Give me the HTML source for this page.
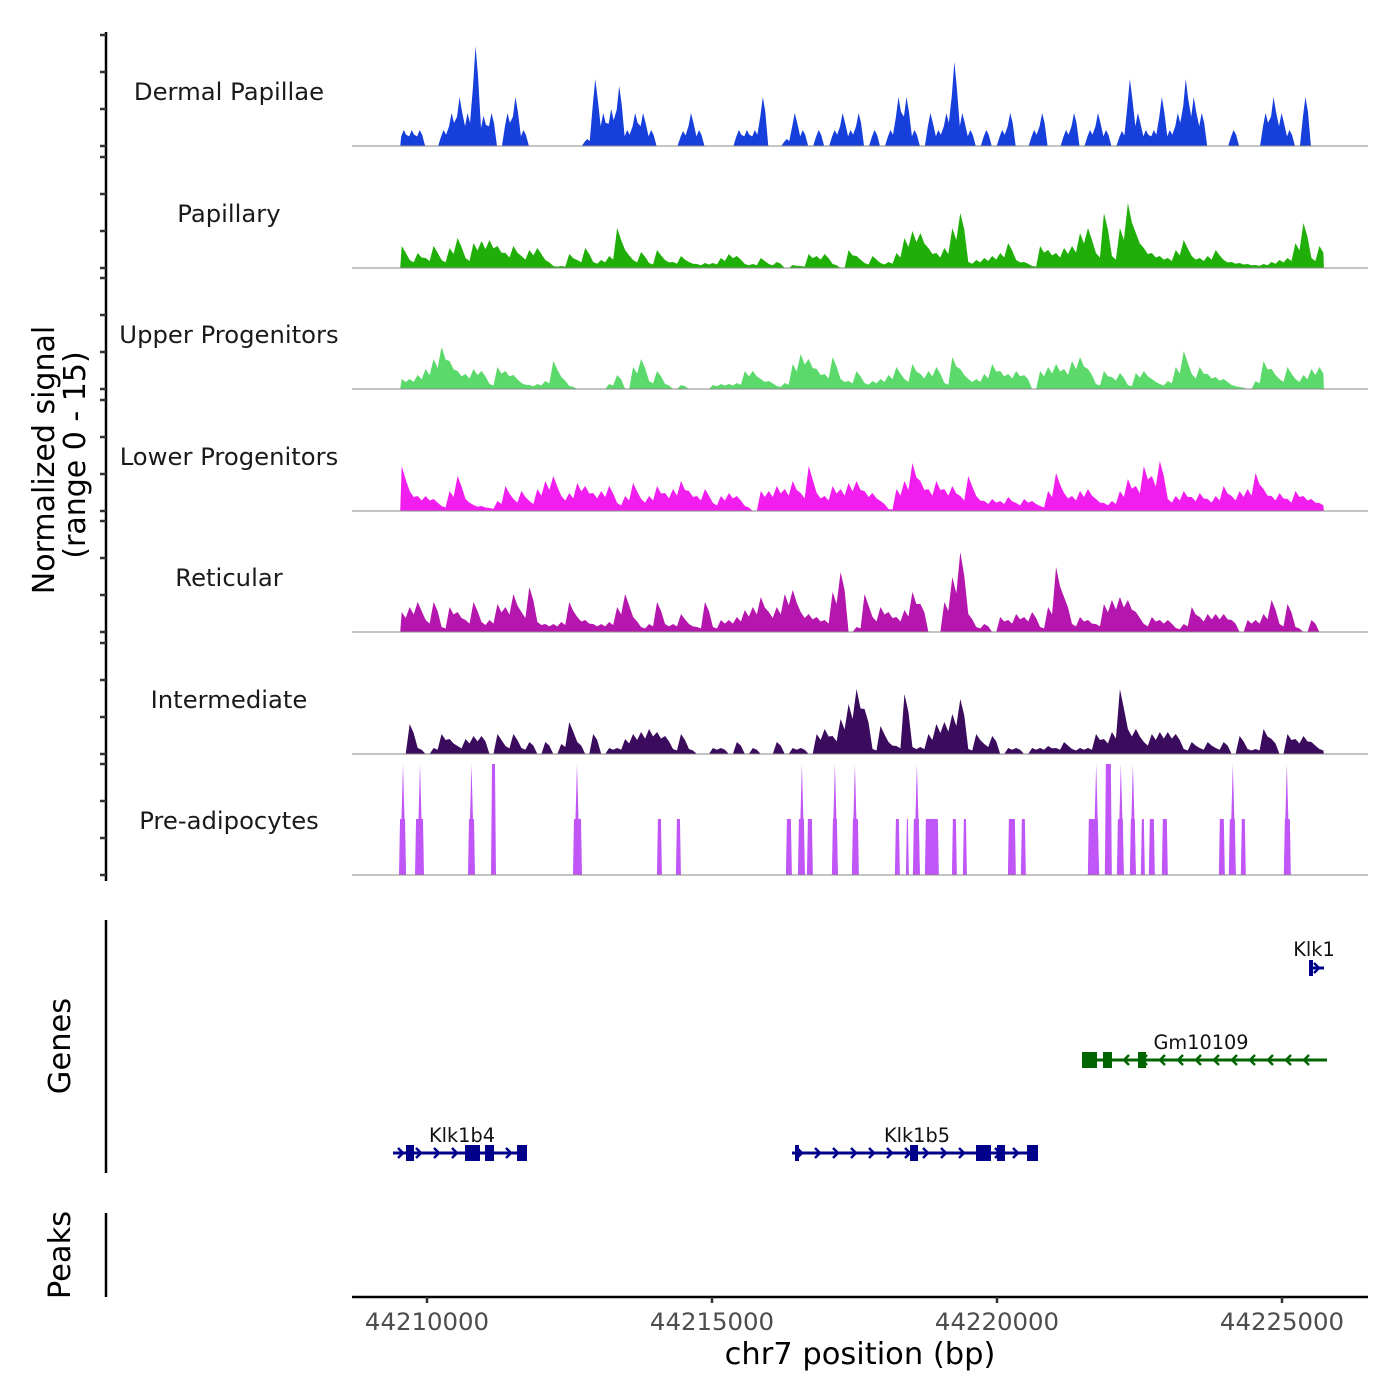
<!DOCTYPE html>
<html><head><meta charset="utf-8"><style>
body{margin:0;background:#fff}
svg{display:block;font-family:"DejaVu Sans","Liberation Sans",sans-serif}
</style></head><body>
<svg id="chart" width="1400" height="1400" viewBox="0 0 1400 1400">
<g id="tracks"></g>
<g id="genes"></g>
<g id="axes"></g>
</svg>
<script>
// ---- data ----
const binStart = 44209530;     // bp of first bin
const binSize = 140;           // bp per bin
const signalMax = 111;         // track signal domain (normalized, range 0-15)
const trackNames = ["Dermal Papillae","Papillary","Upper Progenitors","Lower Progenitors","Reticular","Intermediate","Pre-adipocytes"];
const trackColors = ["#163fdc","#20ae08","#5bd96b","#f21ef0","#b516ae","#3b0b5e","#c056f7"];
const dermal = [16,16,16,0,0,16,33,49,33,100,30,33,0,33,49,16,0,0,0,0,0,0,0,7,67,33,37,60,16,33,33,16,0,0,0,15,33,16,0,0,0,0,16,16,16,49,0,0,7,33,16,0,16,0,16,33,16,33,0,16,0,16,49,49,16,0,33,16,33,84,33,16,0,16,0,16,33,0,0,16,33,0,0,16,33,0,16,33,16,0,15,67,33,16,16,49,16,33,67,49,33,0,0,0,16,0,0,0,33,49,33,16,0,49,0,0];
const papillary = [22,8,15,10,22,8,20,30,10,25,27,28,22,15,22,12,18,20,8,2,2,14,8,20,6,8,12,40,18,8,16,5,18,8,6,12,6,4,5,5,10,14,12,4,4,10,4,6,0,3,2,14,12,14,4,0,18,12,5,12,5,6,15,30,37,35,20,15,20,40,55,6,8,10,12,15,25,8,6,2,22,18,15,20,22,35,40,15,55,12,40,65,35,20,15,12,10,18,28,12,10,12,18,8,6,5,4,3,4,6,8,10,25,45,10,22];
const upper = [10,10,14,20,30,42,28,18,15,20,18,5,22,18,14,6,4,5,8,28,12,3,0,0,0,0,5,14,0,22,30,8,18,5,0,4,0,0,0,4,5,5,6,18,18,10,8,3,6,25,35,30,20,15,32,10,8,18,6,8,10,14,22,10,25,15,18,22,6,32,20,10,10,15,25,18,15,18,14,0,18,22,25,20,28,32,20,5,18,12,16,4,16,18,10,5,8,22,38,15,22,15,12,10,4,2,0,8,28,20,10,22,10,14,20,22];
const lower = [45,20,15,15,12,5,20,35,12,6,5,3,10,25,12,20,10,22,30,35,15,18,28,25,18,20,25,8,15,28,12,15,25,18,22,30,20,15,22,8,15,18,15,5,0,20,20,25,22,30,18,45,18,15,25,22,28,30,20,18,10,2,22,30,48,30,22,30,22,25,15,35,15,10,12,10,14,8,12,10,5,20,38,18,15,20,22,12,8,10,20,32,25,45,35,50,12,15,20,14,18,12,15,25,15,20,22,38,22,15,18,12,20,15,12,8];
const reticular = [20,25,30,12,30,5,25,20,12,30,10,12,28,25,38,20,45,10,8,8,10,30,15,12,8,8,10,25,38,15,5,8,30,8,8,18,8,5,30,5,12,12,15,22,25,35,20,25,38,42,20,18,15,12,40,60,0,5,38,15,25,20,15,22,40,28,0,0,30,55,80,18,5,8,0,15,12,18,15,20,5,25,65,35,8,15,12,8,28,32,35,32,20,8,15,12,12,4,8,25,15,18,18,18,12,0,12,12,18,32,8,28,5,0,12,0];
const intermediate = [0,30,6,0,6,20,15,8,15,18,18,0,20,8,20,6,12,0,12,0,10,32,12,0,20,0,6,6,15,20,22,25,22,18,5,20,5,0,0,6,6,0,12,0,6,0,0,12,0,6,6,0,20,25,18,35,50,65,45,5,28,12,8,60,7,7,20,30,32,40,55,5,20,10,18,0,6,6,0,6,6,8,6,12,5,6,6,20,15,22,65,25,25,12,20,22,22,20,5,12,6,12,6,12,0,18,5,5,25,15,0,20,15,18,12,5];
// pre-adipocytes: peak segments (bp) and values
const preStarts = [44209509,44209790,44210719,44211123,44212561,44214034,44214367,44216297,44216507,44216665,44217104,44217455,44218209,44218402,44218524,44218735,44219209,44219401,44220191,44220419,44221594,44221892,44222103,44222331,44222524,44222664,44222892,44223892,44224067,44224278,44225032];
const preEnds   = [44209632,44209947,44210842,44211210,44212719,44214122,44214455,44216402,44216630,44216770,44217209,44217577,44218296,44218454,44218647,44218980,44219296,44219472,44220331,44220506,44221787,44222015,44222225,44222436,44222594,44222769,44222997,44223997,44224190,44224365,44225155];
const preVals   = [56,56,56,111,56,56,56,56,56,56,56,56,56,56,56,56,56,56,56,56,56,111,56,56,56,56,56,56,56,56,56];
const preSpikes = [44209579,44209877,44210780,44212631,44216577,44217156,44217507,44218595,44221740,44222173,44222384,44224137,44225085];
const tickLabels = ["44210000","44215000","44220000","44225000"];
const tickValues = [44210000,44215000,44220000,44225000];

// ---- scales ----
const xs = bp => 427 + (bp - 44210000) * 0.057;
const baselines = [146,268,389,511,632,754,875];
const ys = (v, b) => b - v * (111 / signalMax);
const NS = "http://www.w3.org/2000/svg";
function mk(tag, attrs, parent){const e=document.createElementNS(NS,tag);for(const k in attrs)e.setAttribute(k,attrs[k]);parent.appendChild(e);return e;}

const tracks = document.getElementById('tracks');
const series = [dermal,papillary,upper,lower,reticular,intermediate];
series.forEach((arr, t) => {
  const b = baselines[t];
  let d;
  if (t === 0) {
    d = `M${xs(binStart)},${b}`;
    arr.forEach((v,i)=>{const x0=xs(binStart+i*binSize),x1=xs(binStart+(i+1)*binSize);d+=` L${x0+1},${ys(v*0.6,b)} L${x0+3.5},${ys(v,b)} L${x1-2},${ys(v*0.7,b)}`;});
    d += ` L${xs(binStart+arr.length*binSize)},${b} Z`;
  } else {
    d = `M${xs(binStart)},${b}`;
    arr.forEach((v,i)=>{const x0=xs(binStart+i*binSize),x1=xs(binStart+(i+1)*binSize);d+=` L${x0+1.5},${ys(v,b)} L${x1-2.5},${ys(v*0.7,b)}`;});
    d += ` L${xs(binStart+arr.length*binSize)-2},${b} Z`;
  }
  const p = mk('path',{d:d,fill:trackColors[t]},tracks);
  
  
});
// pre-adipocytes
const pb = baselines[6];
preStarts.forEach((s,i)=>{
  const x0=xs(s),x1=xs(preEnds[i]),y=ys(preVals[i],pb);
  const p = mk('path',{d:`M${x0},${pb} L${x0+1},${y} L${x1-1},${y} L${x1},${pb} Z`,fill:trackColors[6]},tracks);
  
  
});
preSpikes.forEach(s=>{
  const x=xs(s);
  const p = mk('path',{d:`M${x-3},${pb} L${x-1.5},${ys(56,pb)} L${x},${ys(signalMax,pb)} L${x+1.5},${ys(56,pb)} L${x+3},${pb} Z`,fill:trackColors[6]},tracks);
  
  
});
// baselines + labels
baselines.forEach((b,t)=>{
  const l = mk('line',{x1:352,x2:1368,y1:b,y2:b,stroke:"#8a8a8a","stroke-width":1},tracks);
  
  
  const tx = mk('text',{x:229,y:b-46,"text-anchor":"middle","font-size":24.3,fill:"#1a1a1a"},tracks);
  tx.textContent = trackNames[t];
  
  
});

// ---- genes ----
const genes = document.getElementById('genes');
function gene(name, y, x0, x1, exons, dir, color, lx, ly){
  const g = mk('g',{},genes);
  
  
  mk('line',{x1:x0,x2:x1,y1:y,y2:y,stroke:color,"stroke-width":3},g);
  for(let x=x0+8;x<x1-4;x+=18){
    const d = dir>0 ? `M${x-3},${y-5} L${x+2},${y} L${x-3},${y+5}` : `M${x+3},${y-5} L${x-2},${y} L${x+3},${y+5}`;
    mk('path',{d:d,stroke:color,"stroke-width":2.5,fill:"none"},g);
  }
  exons.forEach(e=>mk('rect',{x:e[0],y:y-8,width:e[1]-e[0],height:16,fill:color},g));
  const t = mk('text',{x:lx,y:ly,"text-anchor":"middle","font-size":19.3,fill:"#111"},g);
  t.textContent = name;
}
gene("Klk1b4",1153,393,527,[[406,414],[465,480],[485,494],[517,527]],1,"#00008b",462,1142);
gene("Klk1b5",1153,792,1038,[[795,799],[910,918],[976,991],[997,1005],[1027,1038]],1,"#00008b",917,1142);
gene("Gm10109",1060,1082,1327,[[1082,1097],[1103,1112],[1138,1146]],-1,"#006400",1201,1049);
gene("Klk1",968,1309,1324,[[1309,1313]],1,"#00008b",1314,956);

// ---- axes ----
const ax = document.getElementById('axes');
function line(a,n){const l=mk('line',a,ax);return l;}
line({x1:106,x2:106,y1:32,y2:881,stroke:"#000","stroke-width":2.5},'y-axis-line');
baselines.forEach(b=>{for(let k=0;k<4;k++){line({x1:100,x2:106,y1:b-k*37,y2:b-k*37,stroke:"#333","stroke-width":2.5},'y-tick');}});
line({x1:106,x2:106,y1:920,y2:1173,stroke:"#000","stroke-width":2.5},'genes-axis-line');
line({x1:106,x2:106,y1:1213,y2:1297,stroke:"#000","stroke-width":2.5},'peaks-axis-line');
line({x1:352,x2:1368,y1:1297,y2:1297,stroke:"#000","stroke-width":2.5},'x-axis-line');
tickValues.forEach((v,i)=>{
  line({x1:xs(v),x2:xs(v),y1:1297,y2:1303,stroke:"#333","stroke-width":2.5},'x-tick');
  const t = mk('text',{x:xs(v),y:1330,"text-anchor":"middle","font-size":24.4,fill:"#4d4d4d"},ax);
  t.textContent = tickLabels[i];
  
  
});
function txt(s,a,n){const t=mk('text',a,ax);t.textContent=s;}
txt("chr7 position (bp)",{x:860,y:1364,"text-anchor":"middle","font-size":30.5,fill:"#000"},'x-axis-title');
txt("Normalized signal",{x:0,y:0,"text-anchor":"middle","font-size":30,fill:"#000",transform:"translate(54,460) rotate(-90)"},'y-axis-title');
txt("(range 0 - 15)",{x:0,y:0,"text-anchor":"middle","font-size":30,fill:"#000",transform:"translate(85,455) rotate(-90)"},'y-axis-subtitle');
txt("Genes",{x:0,y:0,"text-anchor":"middle","font-size":30.5,fill:"#000",transform:"translate(70,1046) rotate(-90)"},'genes-axis-title');
txt("Peaks",{x:0,y:0,"text-anchor":"middle","font-size":30.5,fill:"#000",transform:"translate(70,1255) rotate(-90)"},'peaks-axis-title');
</script>
</body></html>
